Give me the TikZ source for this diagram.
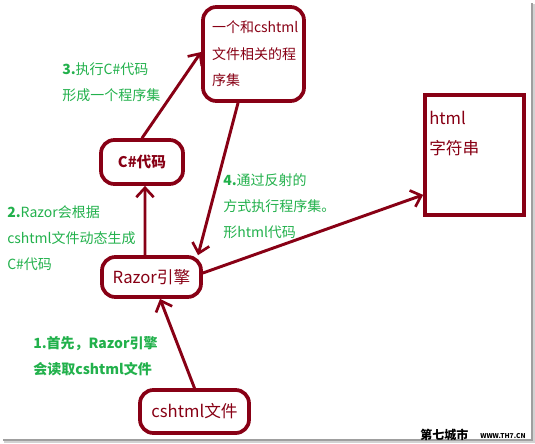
\documentclass[tikz,border=0pt]{standalone}
\usepackage{fontspec}
\setmainfont{Noto Sans CJK SC}
\usetikzlibrary{arrows.meta}
\definecolor{dred}{HTML}{880015}
\definecolor{lgreen}{HTML}{22B14C}
\begin{document}
\begin{tikzpicture}[x=0.75pt,y=-0.75pt,
  box/.style={draw=dred, line width=2.8pt, rounded corners=10pt, text=dred, inner sep=0pt},
  conn/.style={draw=dred, line width=2.2pt, line cap=round,
    -{Straight Barb[length=7pt,width=13pt,line width=2pt]}},
  note/.style={text=lgreen, font=\fontsize{10.5pt}{19.5pt}\selectfont, align=left, anchor=base west, inner sep=0pt},
  boxtext/.style={font=\fontsize{12.5pt}{15pt}\selectfont},
]
\useasboundingbox (0,0) rectangle (535,443);
\fill[white] (0,0) rectangle (535,443);
% shadow of the frame
\fill[gray!75] (531,3) rectangle (533,441);
\fill[gray!35] (533,4) rectangle (535,443);
\fill[gray!75] (3,439) rectangle (533,441);
\fill[gray!35] (4,441) rectangle (535,443);

% boxes
\node[box, minimum width=75.75pt, minimum height=70.5pt, text width=62.25pt, align=left,
      font=\fontsize{10.5pt}{20pt}\selectfont] (asm) at (253.5,54)
  {一个和cshtml\\文件相关的程\\序集};
\node[box, minimum width=61.5pt, minimum height=33pt, font=\fontsize{11pt}{13pt}\selectfont\bfseries] (code) at (142,162) {C\#代码};
\node[box, minimum width=74.25pt, minimum height=30pt, boxtext] (razor) at (151.5,277) {Razor引擎};
\node[box, minimum width=81.75pt, minimum height=32.25pt, boxtext] (cshtml) at (194.5,411.5) {cshtml文件};
\node[box, rounded corners=0pt, minimum width=74.25pt, minimum height=90pt] (html) at (474.5,155) {};
\node[text=dred, anchor=base west, inner sep=0pt, align=left, font=\fontsize{12.5pt}{22.5pt}\selectfont] (htmltext) at (429,154) {html\\字符串};

% connectors
\draw[conn] (cshtml.north) -- ([xshift=6.4pt]razor.south);
\draw[conn] ([xshift=-4.9pt]razor.north) -- ([xshift=2.25pt]code.south);
\draw[conn] (code.north) -- ([yshift=1.5pt]asm.west);
\draw[conn] ([xshift=-11.6pt]asm.south) -- ([xshift=34.9pt]razor.north);
\draw[conn] ([yshift=3pt]razor.east) -- ([yshift=16.5pt]html.south west);

% notes
\node[note] (n3) at (62,100) {\textbf{3.}执行C\#代码\\形成一个程序集};
\node[note] (n2) at (7,269) {\textbf{2.}Razor会根据\\cshtml文件动态生成\\C\#代码};
\node[note] (n4) at (223,237) {\textbf{4.}通过反射的\\方式执行程序集。\\形html代码};
\node[note, font=\fontsize{10.5pt}{19.5pt}\selectfont\bfseries] (n1) at (33,374) {1.首先，Razor引擎\\会读取cshtml文件};

% watermark
\node[anchor=base west, inner sep=0pt, font=\fontsize{9pt}{10pt}\selectfont\bfseries] (wm1) at (420,439) {第七城市};
\node[anchor=base west, inner sep=0pt, font=\fontsize{5pt}{6pt}\selectfont\bfseries] (wm2) at (480,438) {WWW.TH7.CN};
\end{tikzpicture}
\end{document}
